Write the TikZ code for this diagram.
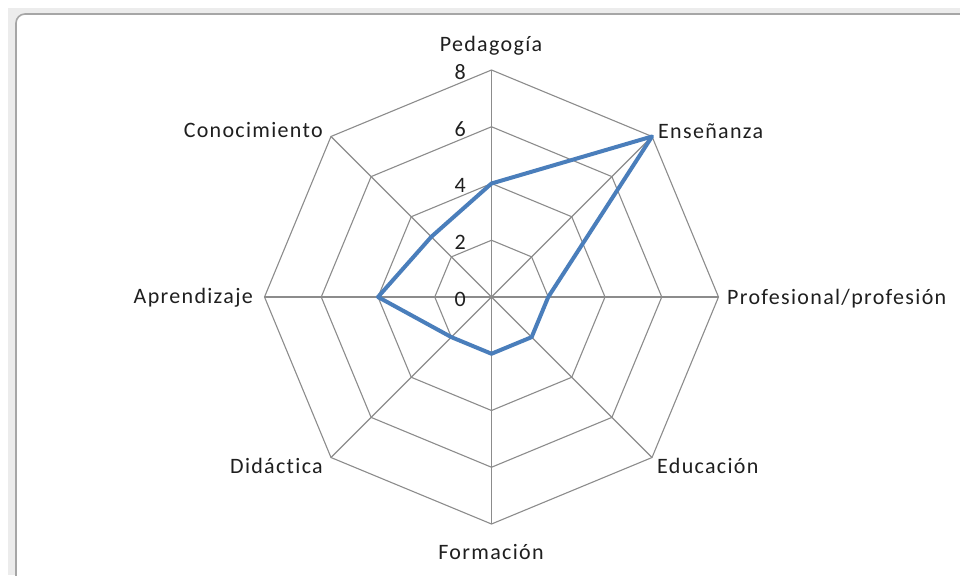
\documentclass[tikz,border=0pt]{standalone}
\usepackage{fontspec}
\setmainfont{Carlito}[LetterSpace=6, Ligatures={CommonOff,RareOff}]
\definecolor{gridc}{HTML}{8C8C8C}
\definecolor{serie}{HTML}{4A7EBB}
\definecolor{sheet}{HTML}{ECECEC}
\definecolor{frame}{HTML}{A6A6A6}
\begin{document}
\begin{tikzpicture}[x=1pt,y=-1pt,
  lab/.style={font=\fontsize{22}{25}\selectfont, text=black!88, inner sep=0pt},
  ticklab/.style={lab, anchor=base east},
  gridline/.style={draw=gridc, line width=1.1pt},
  series/.style={draw=serie, line width=4pt, line join=round}]
\useasboundingbox (0,0) rectangle (960,575);
\fill[white] (0,0) rectangle (960,575);
\fill[sheet] (8,8) rectangle (960,575);
\draw[frame, line width=1.6pt, fill=white, rounded corners=9pt] (16,14) rectangle (975,592);
\begin{scope}[shift={(491.5,297)}]
  \foreach \r in {1,2,3,4}
    \draw[gridline] (-90:\r*56.75) -- (-45:\r*56.75) -- (0:\r*56.75) -- (45:\r*56.75)
      -- (90:\r*56.75) -- (135:\r*56.75) -- (180:\r*56.75) -- (225:\r*56.75) -- cycle;
  \foreach \a in {-90,-45,0,45,90,135,180,225}
    \draw[gridline] (0,0) -- (\a:227);
  \coordinate (p1) at (-90:4*28.375);
  \coordinate (p2) at (-45:8*28.375);
  \coordinate (p3) at (0:2*28.375);
  \coordinate (p4) at (45:2*28.375);
  \coordinate (p5) at (90:2*28.375);
  \coordinate (p6) at (135:2*28.375);
  \coordinate (p7) at (180:4*28.375);
  \coordinate (p8) at (225:3*28.375);
  \draw[series] (p1) -- (p2) -- (p3) -- (p4) -- (p5) -- (p6) -- (p7) -- (p8) -- cycle;
\end{scope}
\node[ticklab] (t8) at (466,79.5) {8};
\node[ticklab] (t6) at (466,136) {6};
\node[ticklab] (t4) at (466,192.5) {4};
\node[ticklab] (t2) at (466,249) {2};
\node[ticklab] (t0) at (466,306) {0};
\node[lab, anchor=base] (ped) at (491,52) {Pedagogía};
\node[lab, anchor=base west] (ens) at (658,138.5) {Enseñanza};
\node[lab, anchor=base west] (pro) at (727,304) {Profesional/profesión};
\node[lab, anchor=base west] (edu) at (657,473) {Educación};
\node[lab, anchor=base] (for) at (491,559) {Formación};
\node[lab, anchor=base east] (did) at (323,473) {Didáctica};
\node[lab, anchor=base east] (apr) at (253,303.5) {Aprendizaje};
\node[lab, anchor=base east] (con) at (323,137) {Conocimiento};
\end{tikzpicture}
\end{document}
